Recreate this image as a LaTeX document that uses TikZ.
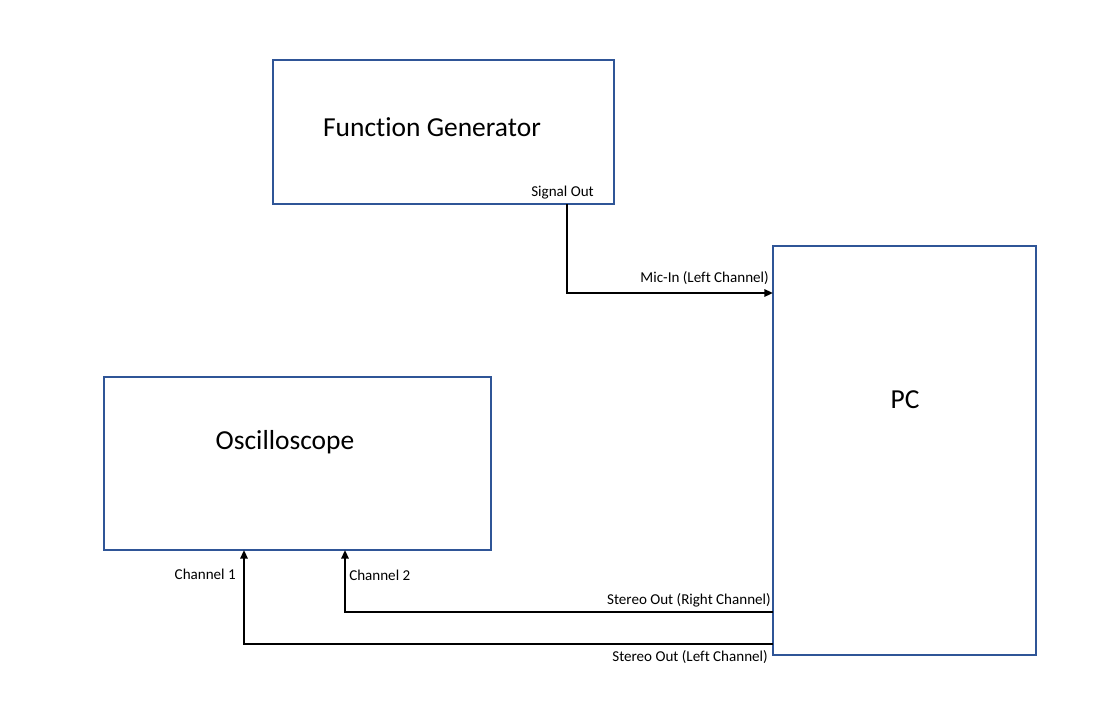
\documentclass[tikz,border=0pt]{standalone}
\usepackage{fontspec}
\setmainfont{Carlito}[Ligatures=NoCommon]
\usetikzlibrary{arrows.meta}
\tikzset{>={Triangle[length=6.5pt,width=5.5pt]}}
\definecolor{boxcol}{RGB}{47,85,151}
\tikzset{
  box/.style={draw=boxcol,line width=1.5pt,inner sep=0,outer sep=0},
  title/.style={inner sep=0,font=\fontsize{20.6}{24}\selectfont},
  port/.style={inner sep=0,font=\fontsize{11.3}{13}\selectfont},
  wire/.style={line width=1.5pt,line join=miter},
}

\begin{document}
\begin{tikzpicture}[x=0.75pt,y=-0.75pt]
  \useasboundingbox (0,0) rectangle (1114,726);
  
  % BOXES
  \node[box,minimum width=255.75pt,minimum height=108pt] (fg) at (443.5,132) {};
  \node[box,minimum width=197.25pt,minimum height=306.75pt] (pc) at (904.5,450.5) {};
  \node[box,minimum width=290.25pt,minimum height=129.75pt] (osc) at (297.5,463.5) {};
  
  \node[title] (fgname) at (432,127) {Function Generator};
  \node[title] (pcname) at (905,400) {PC};
  \node[title] (oscname) at (285,442) {Oscilloscope};
  
  % PORTS
  \coordinate (sigout) at (567,204);
  \coordinate (micin) at (773,293);
  \coordinate (rout) at (773,612);
  \coordinate (lout) at (773,644);
  \coordinate (ch1) at (244,550);
  \coordinate (ch2) at (345,550);
  
  % LINES
  \draw[wire,->] (fg.south -| sigout) |- (pc.west |- micin);
  \draw[wire,->] (pc.west |- rout) -| (osc.south -| ch2);
  \draw[wire,->] (pc.west |- lout) -| (osc.south -| ch1);
  
  % LABELS
  \node[port,anchor=east] (sigl) at (594,192.5) {Signal Out};
  \node[port,anchor=east] (micl) at (769,278.5) {Mic-In (Left Channel)};
  \node[port,anchor=east] (routl) at (771,600.5) {Stereo Out (Right Channel)};
  \node[port,anchor=east] (loutl) at (768,657.5) {Stereo Out (Left Channel)};
  \node[port,anchor=east] (ch1l) at (236,574.5) {Channel 1};
  \node[port,anchor=west] (ch2l) at (349,575.5) {Channel 2};
  
\end{tikzpicture}
\end{document}
